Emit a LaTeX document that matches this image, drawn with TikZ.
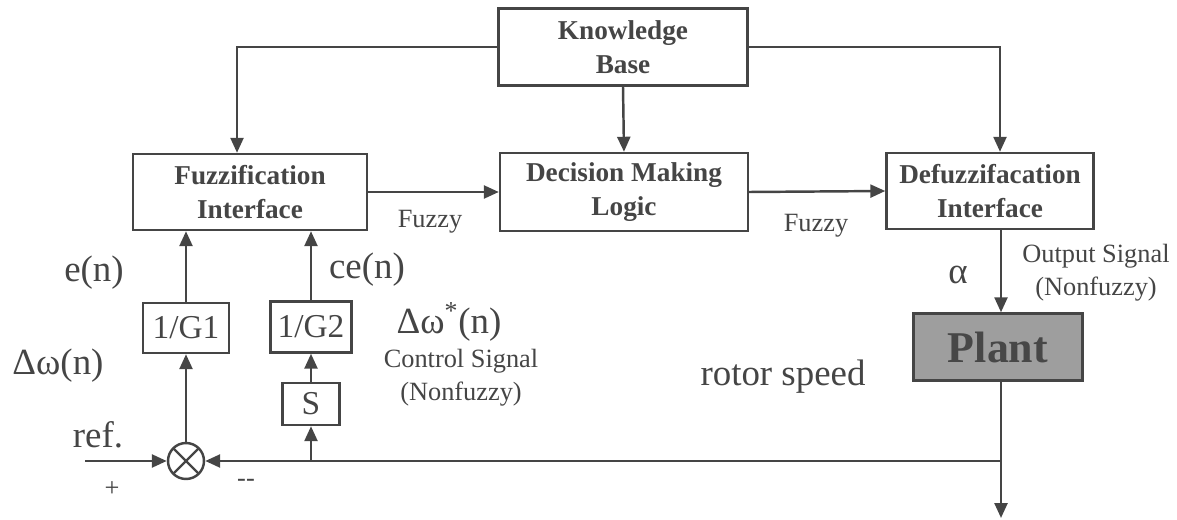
\documentclass[tikz,border=0pt]{standalone}
\usepackage{fontspec}
\setmainfont{Liberation Serif}
\usetikzlibrary{arrows.meta}
\definecolor{ink}{gray}{0.27}

\tikzset{
  block/.style={draw, align=center, inner sep=2pt, font=\bfseries\fontsize{15.5}{19}\selectfont},
  gain/.style={draw, inner sep=2pt, font=\fontsize{19}{22}\selectfont},
  sig/.style={-{Triangle[length=3mm,width=2.6mm]}},
  big/.style={font=\fontsize{21}{24}\selectfont},
  note/.style={align=center, font=\fontsize{15}{19}\selectfont},
}

\begin{document}
\begin{tikzpicture}[x=0.02cm, y=-0.02cm, color=ink, line width=1.4pt]
  \useasboundingbox (0,0) rectangle (1177,520);

  % fuzzy controller blocks
  \node[block, minimum width=4.98cm, minimum height=1.54cm] (kb) at (623,47) {Knowledge\\Base};
  \node[block, minimum width=4.68cm, minimum height=1.52cm] (fuzz) at (250,192) {Fuzzification\\Interface};
  \node[block, minimum width=4.96cm, minimum height=1.56cm] (dml) at (624,192) {Decision Making\\Logic};
  \node[block, minimum width=4.14cm, minimum height=1.52cm] (defuzz) at (990,191) {Defuzzifacation\\Interface};
  \node[block, fill=black!38, text=black!72, minimum width=3.38cm, minimum height=1.34cm,
        font=\bfseries\fontsize{25}{28}\selectfont] (plant) at (998,347) {Plant};

  % scaling and summing
  \node[gain, minimum width=1.72cm, minimum height=1cm] (g1) at (186,328) {1/G1};
  \node[gain, minimum width=1.62cm, minimum height=1.02cm] (g2) at (311,327) {1/G2};
  \node[gain, minimum width=1.14cm, minimum height=0.84cm] (s) at (311,404) {S};
  \node[circle, draw, minimum size=0.72cm, inner sep=0pt,
        path picture={\draw (path picture bounding box.north west) -- (path picture bounding box.south east)
                            (path picture bounding box.north east) -- (path picture bounding box.south west);}]
        (sum) at (186,461) {};

  \coordinate (ref) at (85,461);
  \coordinate (fb) at (1001,461);
  \coordinate (out) at (1001,518);

  % knowledge base links
  \draw[sig] (kb.west) -| ([xshift=-0.26cm]fuzz.north);
  \draw[sig] (kb.east) -| ([xshift=0.2cm]defuzz.north);
  \draw[sig] (kb.south) -- (dml.north);

  % forward path
  \draw[sig] (fuzz.east) -- (dml.west);
  \draw[sig] (dml.east) -- (defuzz.west);
  \draw[sig] (defuzz.south -| fb) -- (plant.north -| fb);
  \draw[sig] (plant.south -| fb) -- (out);

  % feedback and inputs
  \draw[sig] (ref) -- (sum.west);
  \draw[sig] (fb) -- (sum.east);
  \draw[sig] (s.south |- fb) -- (s.south);
  \draw[sig] (s.north) -- (g2.south);
  \draw[sig] (sum.north) -- (g1.south);
  \draw[sig] (g1.north) -- (g1.north |- fuzz.south);
  \draw[sig] (g2.north) -- (g2.north |- fuzz.south);

  % labels
  \node[note] (fz1) at (430,222) {Fuzzy};
  \node[note] (fz2) at (816,226) {Fuzzy};
  \node[big] (alpha) at (958,275) {α};
  \node[note] (outsig) at (1096,273) {Output Signal\\(Nonfuzzy)};
  \node[big] (en) at (94,273) {e(n)};
  \node[big] (cen) at (367,270) {ce(n)};
  \node[big] (dw) at (58,366) {Δω(n)};
  \node[big] (dwref) at (449,322) {Δω\textsuperscript{*}(n)};
  \node[note] (ctrl) at (461,378) {Control Signal\\(Nonfuzzy)};
  \node[big] (rotor) at (783,377) {rotor speed};
  \node[big] (reflab) at (98,435) {ref.};
  \node[note] (plus) at (112,489) {+};
  \node[note] (minus) at (246,483) {-{}-};
\end{tikzpicture}
\end{document}
